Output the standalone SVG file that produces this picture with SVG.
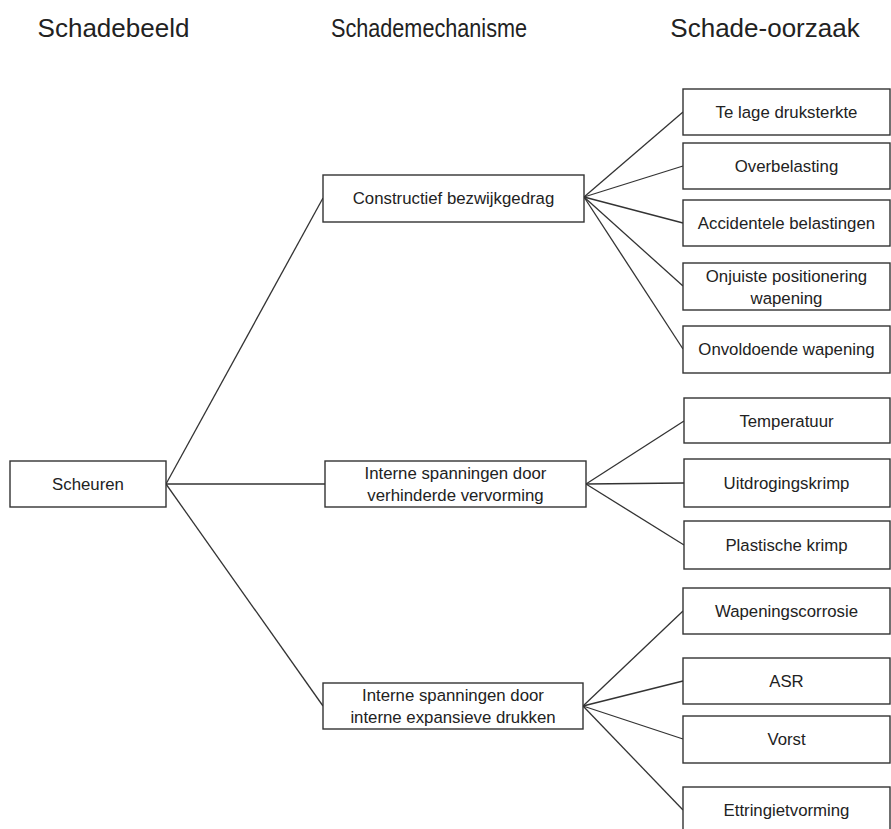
<svg xmlns="http://www.w3.org/2000/svg" width="891" height="829" viewBox="0 0 891 829">
<style>
.box{fill:#fff;stroke:#333;stroke-width:1.4}
.t{font-family:"Liberation Sans",Arial,sans-serif;font-size:16.8px;fill:#222;text-anchor:middle;dominant-baseline:central}
.h{font-family:"Liberation Sans",Arial,sans-serif;font-size:26px;fill:#222;text-anchor:middle}
.c line{stroke:#333;stroke-width:1.3}
</style>
<rect width="891" height="829" fill="#fff"/>
<g id="headers">
<text class="h" x="113.5" y="37">Schadebeeld</text>
<text class="h" x="429" y="37" textLength="196" lengthAdjust="spacingAndGlyphs">Schademechanisme</text>
<text class="h" x="765" y="37">Schade-oorzaak</text>
</g>
<g id="connectors" class="c">
<line x1="166" y1="484" x2="323" y2="198"/>
<line x1="166" y1="484" x2="325" y2="484"/>
<line x1="166" y1="484" x2="323" y2="706"/>
<line x1="584" y1="197" x2="683" y2="112"/>
<line x1="584" y1="197" x2="683" y2="166"/>
<line x1="584" y1="197" x2="683" y2="223"/>
<line x1="584" y1="197" x2="683" y2="286"/>
<line x1="584" y1="197" x2="683" y2="349"/>
<line x1="586" y1="484" x2="684" y2="421"/>
<line x1="586" y1="484" x2="684" y2="483"/>
<line x1="586" y1="484" x2="684" y2="545"/>
<line x1="583" y1="706" x2="683" y2="611"/>
<line x1="583" y1="706" x2="683" y2="681"/>
<line x1="583" y1="706" x2="683" y2="739"/>
<line x1="583" y1="706" x2="683" y2="810"/>
</g>
<g id="scheuren"><rect class="box" x="10" y="461" width="156" height="46"/><text class="t" x="88" y="484">Scheuren</text></g>
<g id="constructief"><rect class="box" x="323" y="175" width="261" height="47"/><text class="t" x="453.5" y="198">Constructief bezwijkgedrag</text></g>
<g id="verhinderde"><rect class="box" x="325" y="461" width="261" height="46"/><text class="t" x="455.5" y="473">Interne spanningen door</text><text class="t" x="455.5" y="495">verhinderde vervorming</text></g>
<g id="expansieve"><rect class="box" x="323" y="683" width="260" height="46"/><text class="t" x="453" y="695">Interne spanningen door</text><text class="t" x="453" y="717">interne expansieve drukken</text></g>
<g id="druksterkte"><rect class="box" x="683" y="89" width="207" height="46"/><text class="t" x="786.5" y="112">Te lage druksterkte</text></g>
<g id="overbelasting"><rect class="box" x="683" y="143" width="207" height="46"/><text class="t" x="786.5" y="166">Overbelasting</text></g>
<g id="accidentele"><rect class="box" x="683" y="200" width="207" height="46"/><text class="t" x="786.5" y="223">Accidentele belastingen</text></g>
<g id="onjuiste"><rect class="box" x="683" y="263" width="207" height="47"/><text class="t" x="786.5" y="276">Onjuiste positionering</text><text class="t" x="786.5" y="298">wapening</text></g>
<g id="onvoldoende"><rect class="box" x="683" y="326" width="207" height="47"/><text class="t" x="786.5" y="349">Onvoldoende wapening</text></g>
<g id="temperatuur"><rect class="box" x="684" y="398" width="206" height="45"/><text class="t" x="786.5" y="421">Temperatuur</text></g>
<g id="uitdrogingskrimp"><rect class="box" x="684" y="459" width="206" height="48"/><text class="t" x="786.5" y="483">Uitdrogingskrimp</text></g>
<g id="plastische"><rect class="box" x="684" y="521" width="206" height="48"/><text class="t" x="786.5" y="545">Plastische krimp</text></g>
<g id="wapeningscorrosie"><rect class="box" x="683" y="588" width="207" height="46"/><text class="t" x="786.5" y="611">Wapeningscorrosie</text></g>
<g id="asr"><rect class="box" x="683" y="658" width="207" height="46"/><text class="t" x="786.5" y="681">ASR</text></g>
<g id="vorst"><rect class="box" x="683" y="716" width="207" height="47"/><text class="t" x="786.5" y="739">Vorst</text></g>
<g id="ettringietvorming"><rect class="box" x="683" y="787" width="207" height="46"/><text class="t" x="786.5" y="810">Ettringietvorming</text></g>
</svg>
